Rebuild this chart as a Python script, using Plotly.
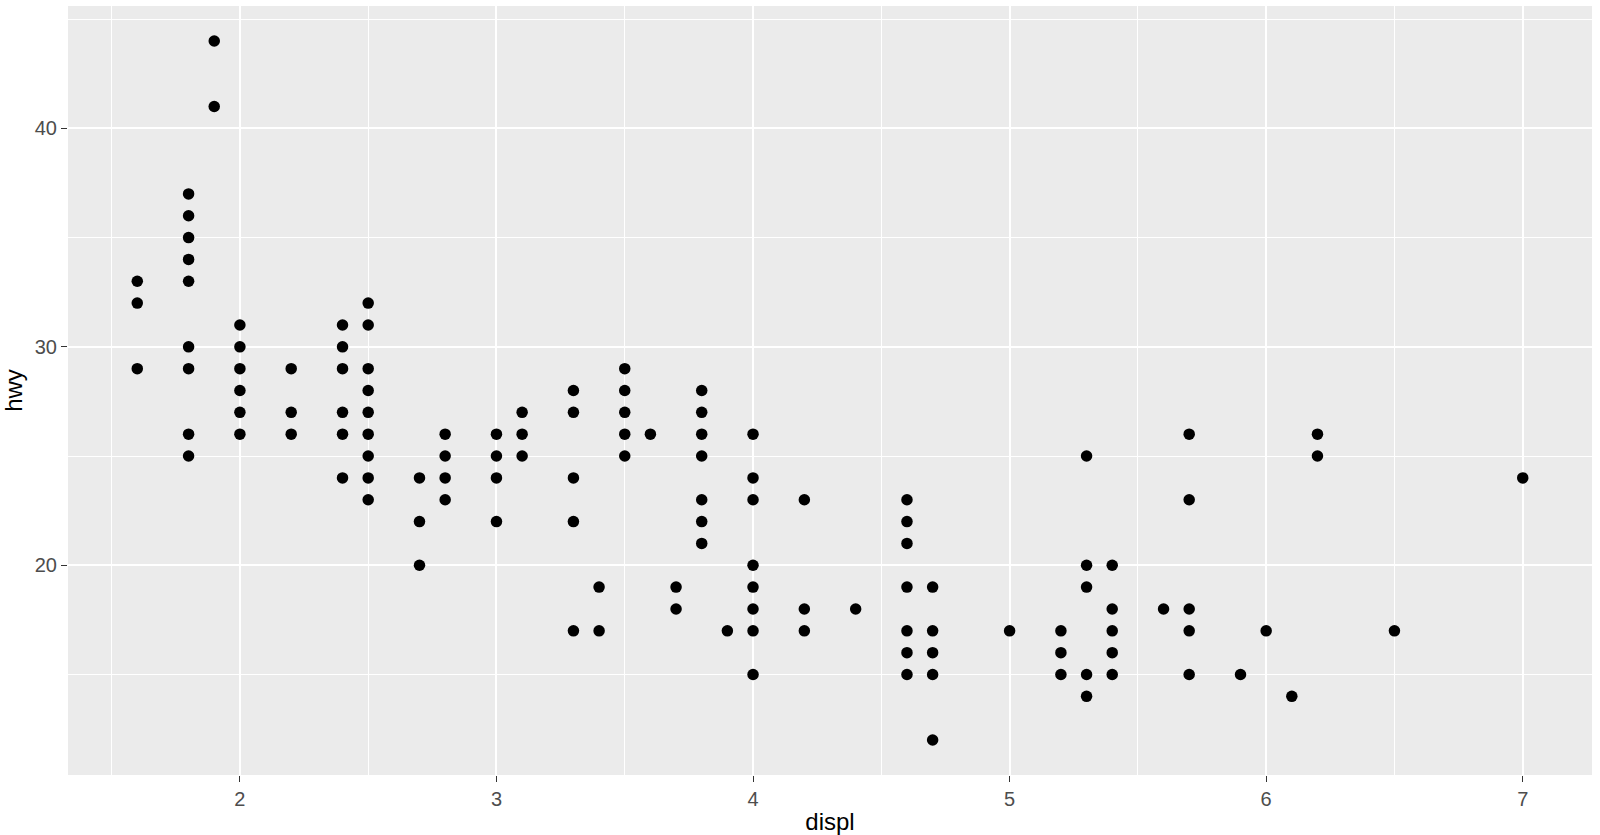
import plotly.graph_objects as go

# Unique (displ, hwy) pairs
displ_groups = {
    1.6: [33, 32, 29],
    1.8: [37, 36, 35, 34, 33, 30, 29, 26, 25],
    1.9: [44, 41],
    2.0: [31, 30, 29, 28, 27, 26],
    2.2: [29, 27, 26],
    2.4: [31, 30, 29, 27, 26, 24],
    2.5: [32, 31, 29, 28, 27, 26, 25, 24, 23],
    2.7: [24, 22, 20],
    2.8: [26, 25, 24, 23],
    3.0: [26, 25, 24, 22],
    3.1: [27, 26, 25],
    3.3: [28, 27, 24, 22, 17],
    3.4: [19, 17],
    3.5: [29, 28, 27, 26, 25],
    3.6: [26],
    3.7: [19, 18],
    3.8: [28, 27, 26, 25, 23, 22, 21],
    3.9: [17],
    4.0: [26, 24, 23, 20, 19, 18, 17, 15],
    4.2: [23, 18, 17],
    4.4: [18],
    4.6: [23, 22, 21, 19, 17, 16, 15],
    4.7: [19, 17, 16, 15, 12],
    5.0: [17],
    5.2: [17, 16, 15],
    5.3: [25, 20, 19, 15, 14],
    5.4: [20, 18, 17, 16, 15],
    5.6: [18],
    5.7: [26, 23, 18, 17, 15],
    5.9: [15],
    6.0: [17],
    6.1: [14],
    6.2: [26, 25],
    6.5: [17],
    7.0: [24],
}

displ = []
hwy = []
for d, hs in displ_groups.items():
    for h in hs:
        displ.append(d)
        hwy.append(h)

x_ticks = [2, 3, 4, 5, 6, 7]
y_ticks = [20, 30, 40]

FONT = "Liberation Sans, Arial, Helvetica, sans-serif"

fig = go.Figure(
    go.Scatter(
        x=displ, y=hwy, mode="markers",
        marker=dict(color="black", size=11.5, line=dict(width=0)),
        hoverinfo="x+y",
    )
)

axis_common = dict(
    showgrid=True, gridcolor="white", gridwidth=2.2,
    zeroline=False, showline=False,
    ticks="outside", ticklen=6, tickwidth=1.4, tickcolor="#333333",
    tickfont=dict(family=FONT, size=20, color="#4D4D4D"),
)

fig.update_layout(
    width=1600, height=835,
    margin=dict(l=68, r=8, t=6, b=60, autoexpand=False),
    paper_bgcolor="white", plot_bgcolor="#EBEBEB",
    showlegend=False,
    font=dict(family=FONT),
    xaxis=dict(
        **axis_common,
        range=[1.33, 7.27], tickvals=x_ticks, ticktext=[str(v) for v in x_ticks],
        minor=dict(dtick=0.5, tick0=1.5, showgrid=True, gridcolor="white", gridwidth=1.1, ticks=""),
        title=dict(text="displ", font=dict(family=FONT, size=24, color="black"), standoff=4),
        automargin=False,
    ),
    yaxis=dict(
        **axis_common,
        range=[10.4, 45.6], tickvals=y_ticks, ticktext=[str(v) for v in y_ticks],
        minor=dict(dtick=5, tick0=15, showgrid=True, gridcolor="white", gridwidth=1.1, ticks=""),
        title=dict(text="hwy", font=dict(family=FONT, size=24, color="black"), standoff=5),
        automargin=False,
    ),
)

fig.write_html(
    "out.html",
    config={"displayModeBar": False},
    post_script="document.body.style.margin='0';document.body.style.overflow='hidden';",
)
